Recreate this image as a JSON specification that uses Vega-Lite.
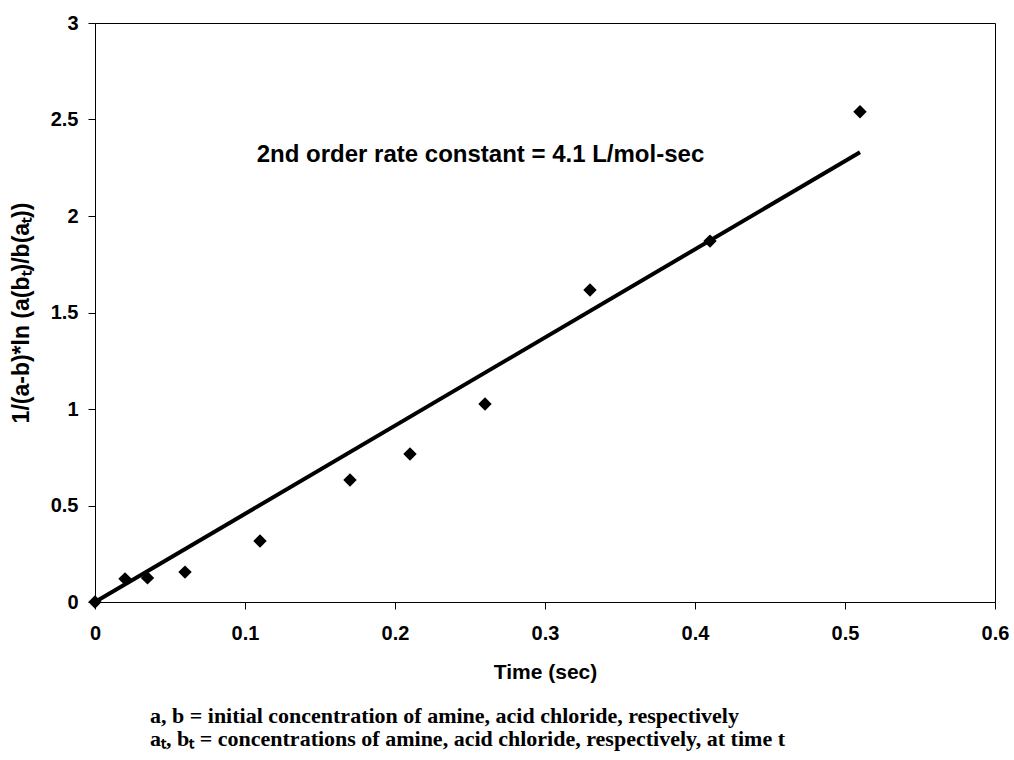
{
  "$schema": "https://vega.github.io/schema/vega-lite/v6.json",
  "autosize": "none",
  "width": 900,
  "height": 579,
  "padding": {"left": 95, "top": 23, "right": 19, "bottom": 158},
  "background": "white",
  "config": {
    "view": {"stroke": "black", "strokeWidth": 1},
    "axis": {
      "labelFont": "Liberation Sans", "labelFontWeight": "bold", "labelFontSize": 20, "labelColor": "black",
      "titleFont": "Liberation Sans", "titleFontWeight": "bold", "titleColor": "black",
      "domainColor": "black", "tickColor": "black", "tickSize": 7, "grid": false
    }
  },
  "title": {
    "text": ["a, b = initial concentration of amine, acid chloride, respectively", "aₜ, bₜ = concentrations of amine, acid chloride, respectively, at time t"],
    "orient": "bottom", "anchor": "start", "frame": "group", "dx": 55, "offset": 24,
    "font": "Liberation Serif", "fontWeight": "bold", "fontSize": 22, "color": "black", "lineHeight": 23
  },
  "datasets": {
    "pts": [
      {"t": 0, "v": 0},
      {"t": 0.02, "v": 0.12},
      {"t": 0.035, "v": 0.125},
      {"t": 0.06, "v": 0.155},
      {"t": 0.11, "v": 0.316},
      {"t": 0.17, "v": 0.632},
      {"t": 0.21, "v": 0.767},
      {"t": 0.26, "v": 1.026},
      {"t": 0.33, "v": 1.617},
      {"t": 0.41, "v": 1.87},
      {"t": 0.51, "v": 2.54}
    ],
    "fit": [
      {"t": 0, "v": 0},
      {"t": 0.51, "v": 2.33}
    ],
    "note": [
      {"t": 0.257, "v": 2.316, "label": "2nd order rate constant = 4.1 L/mol-sec"}
    ]
  },
  "layer": [
    {
      "data": {"name": "fit"},
      "mark": {"type": "line", "color": "black", "strokeWidth": 4},
      "encoding": {
        "x": {"field": "t", "type": "quantitative", "scale": {"domain": [0, 0.6], "nice": false},
              "axis": {"title": "Time (sec)", "titleFontSize": 21, "format": ".1~f", "values": [0, 0.1, 0.2, 0.3, 0.4, 0.5, 0.6], "labelPadding": 14, "titlePadding": 18, "labelFlush": false}},
        "y": {"field": "v", "type": "quantitative", "scale": {"domain": [0, 3], "nice": false},
              "axis": {"title": "1/(a-b)*ln (a(bₜ)/b(aₜ))", "titleFontSize": 23, "format": ".1~f", "values": [0, 0.5, 1, 1.5, 2, 2.5, 3], "labelPadding": 10, "titlePadding": 17, "labelFlush": false}}
      }
    },
    {
      "data": {"name": "pts"},
      "mark": {"type": "point", "shape": "diamond", "filled": true, "color": "black", "size": 180, "opacity": 1},
      "encoding": {
        "x": {"field": "t", "type": "quantitative"},
        "y": {"field": "v", "type": "quantitative"}
      }
    },
    {
      "data": {"name": "note"},
      "mark": {"type": "text", "font": "Liberation Sans", "fontWeight": "bold", "fontSize": 24, "color": "black", "align": "center", "baseline": "middle"},
      "encoding": {
        "x": {"field": "t", "type": "quantitative"},
        "y": {"field": "v", "type": "quantitative"},
        "text": {"field": "label"}
      }
    }
  ]
}
